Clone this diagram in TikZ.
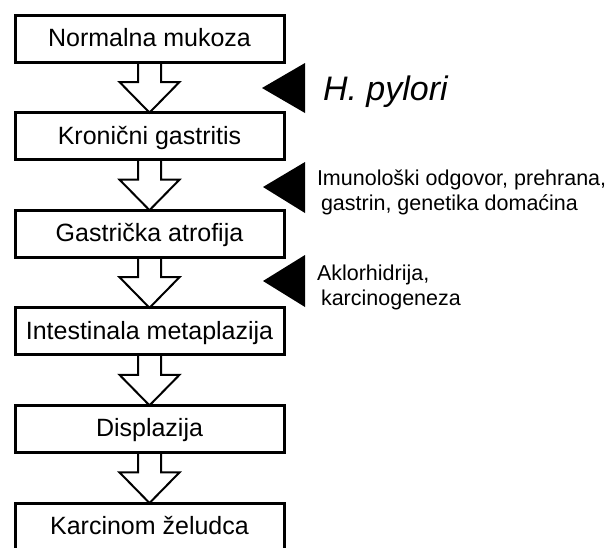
\documentclass[tikz,border=0pt]{standalone}
\usepackage{fontspec}
\setmainfont{Liberation Sans}
\usetikzlibrary{calc}

\begin{document}
\begin{tikzpicture}[x=1pt,y=-1pt]
\tikzstyle{every node}+=[inner sep=0pt, outer sep=0pt]
\tikzstyle{stage}=[draw=black, line width=3pt, minimum width=269pt, minimum height=47pt, font=\fontsize{25}{29}\selectfont, text height=16pt, text depth=0pt]
\tikzstyle{hollow}=[draw=black, line width=2pt]
\tikzstyle{cause}=[anchor=base west, align=left, font=\fontsize{21.5}{24.5}\selectfont]
\clip (0,0) rectangle (608,547);
\node [stage] (mukoza) at (149.5,38.5) {Normalna mukoza};
\node [stage] (gastritis) at (149.5,136.1) {Kronični gastritis};
\node [stage] (atrofija) at (149.5,233.7) {Gastrička atrofija};
\node [stage] (metaplazija) at (149.5,331.3) {Intestinala metaplazija};
\node [stage] (displazija) at (149.5,428.9) {Displazija};
\node [stage] (karcinom) at (149.5,526.5) {Karcinom želudca};
\draw [hollow] ($(mukoza.south)+(-11.5,0)$) -- ++(0,20) -- ++(-18.5,0) -- (gastritis.north) -- ($(mukoza.south)+(30,20)$) -- ++(-18.5,0) -- ++(0,-20);
\draw [hollow] ($(gastritis.south)+(-11.5,0)$) -- ++(0,20) -- ++(-18.5,0) -- (atrofija.north) -- ($(gastritis.south)+(30,20)$) -- ++(-18.5,0) -- ++(0,-20);
\draw [hollow] ($(atrofija.south)+(-11.5,0)$) -- ++(0,20) -- ++(-18.5,0) -- (metaplazija.north) -- ($(atrofija.south)+(30,20)$) -- ++(-18.5,0) -- ++(0,-20);
\draw [hollow] ($(metaplazija.south)+(-11.5,0)$) -- ++(0,20) -- ++(-18.5,0) -- (displazija.north) -- ($(metaplazija.south)+(30,20)$) -- ++(-18.5,0) -- ++(0,-20);
\draw [hollow] ($(displazija.south)+(-11.5,0)$) -- ++(0,20) -- ++(-18.5,0) -- (karcinom.north) -- ($(displazija.south)+(30,20)$) -- ++(-18.5,0) -- ++(0,-20);
\fill [black] (262,88) -- (305,63) -- (305,113) -- cycle;
\fill [black] (263,187) -- (305,162) -- (305,213) -- cycle;
\fill [black] (263,281) -- (305,255) -- (305,307) -- cycle;
\node [cause, font=\fontsize{34}{40}\selectfont\itshape] (pylori) at (323,100) {H. pylori};
\node [cause] (imuno) at (317,210) {Imunološki odgovor, prehrana,\\\hspace*{4pt}gastrin, genetika domaćina};
\node [cause] (aklor) at (317,305) {Aklorhidrija,\\\hspace*{4pt}karcinogeneza};
\end{tikzpicture}
\end{document}
